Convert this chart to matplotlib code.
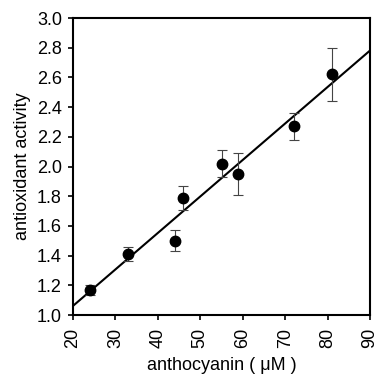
import numpy as np
import matplotlib
matplotlib.use('Agg')
import matplotlib.pyplot as plt

# data
conc = np.array([24, 33, 44, 46, 55, 59, 72, 81])
activity = np.array([1.17, 1.41, 1.50, 1.79, 2.02, 1.95, 2.27, 2.62])
err = np.array([0.035, 0.045, 0.07, 0.08, 0.09, 0.14, 0.09, 0.18])

xticks = np.arange(20, 91, 10)
yticks = np.arange(1.0, 3.01, 0.2)

plt.rcParams['font.family'] = ['Liberation Sans', 'DejaVu Sans']
plt.rcParams['font.size'] = 13

fig = plt.figure(figsize=(3.78, 3.75), dpi=100)
ax = fig.add_axes([73/378, 1-315/375, (370-73)/378, (315-18)/375])

# linear fit
slope, icpt = np.polyfit(conc, activity, 1)
xf = np.array([xticks[0], xticks[-1]])
ax.plot(xf, slope*xf + icpt, color='black', lw=1.5, zorder=2)

ax.errorbar(conc, activity, yerr=err, fmt='o', color='black', ms=7.5,
            ecolor='#444444', elinewidth=0.8, capsize=3.5, capthick=0.8, zorder=3)

ax.set_xlim(20, 90)
ax.set_ylim(1.0, 3.0)
ax.set_xticks(xticks)
ax.set_yticks(yticks)
ax.set_xticklabels([str(v) for v in xticks], rotation=90)
ax.set_yticklabels(['%.1f' % v for v in yticks])
ax.tick_params(direction='out', length=3.5, width=1.2, labelsize=13, pad=4.5)
ax.tick_params(axis='x', pad=6)
for s in ax.spines.values():
    s.set_linewidth(1.5)

ax.set_xlabel('anthocyanin ( \u03bcM )', fontsize=13, labelpad=6)
ax.set_ylabel('antioxidant activity', fontsize=13, labelpad=4)

plt.savefig('out.png', dpi=100)
